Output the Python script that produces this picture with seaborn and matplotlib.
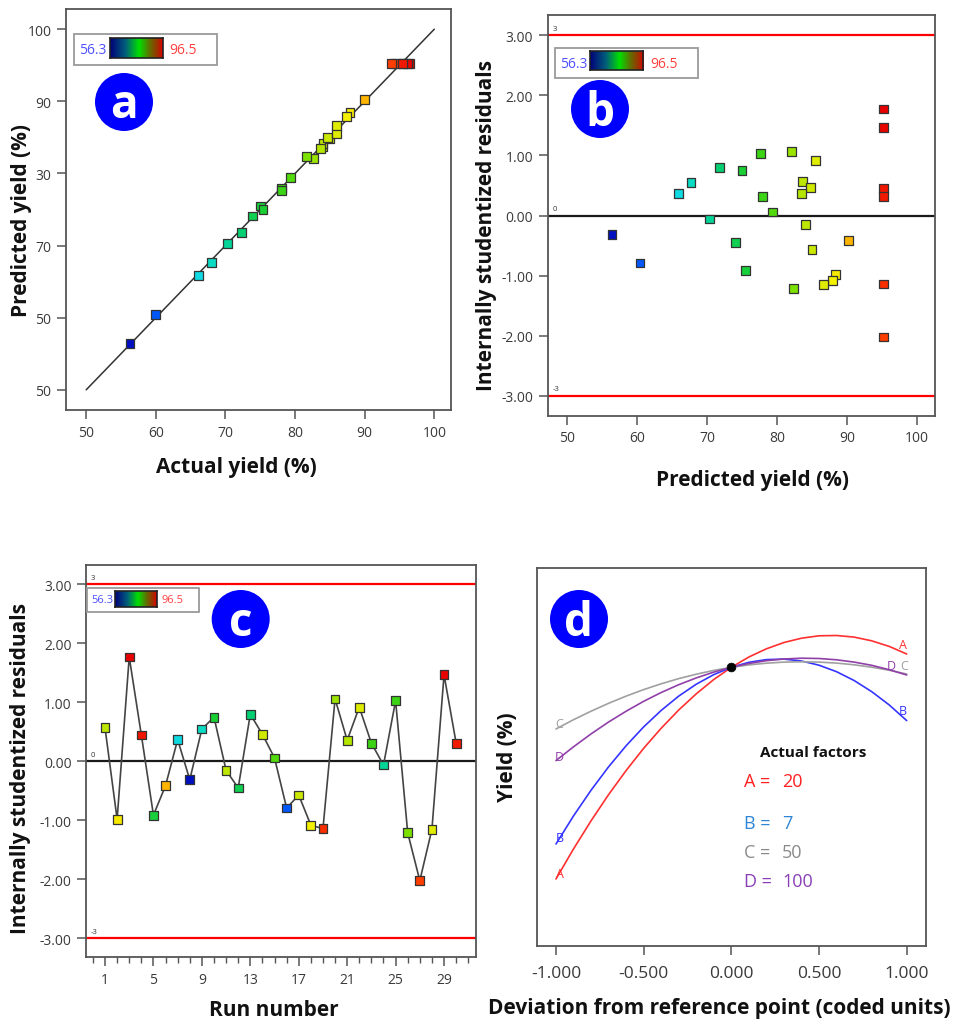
import numpy as np
import pandas as pd
import matplotlib
matplotlib.use("Agg")
import matplotlib.pyplot as plt
import seaborn as sns
from matplotlib.colors import LinearSegmentedColormap
from matplotlib.patches import Ellipse, Rectangle
from matplotlib.ticker import MultipleLocator

# ---------------- data ----------------
runs = list(range(1, 31))
actual_yield = [84.0, 87.9, 96.5, 95.5, 75.0, 90.0, 66.1, 56.3, 68.0, 75.4,
                84.0, 73.9, 72.3, 85.0, 79.4, 60.0, 84.7, 87.4, 94.4, 82.7,
                83.7, 86.0, 78.1, 70.3, 78.1, 81.7, 93.8, 86.0, 96.2, 95.4]
predicted_yield = [83.7, 88.4, 95.2, 95.2, 75.5, 90.2, 65.9, 56.4, 67.7, 75.0,
                   84.1, 74.1, 71.8, 84.8, 79.4, 60.4, 85.0, 87.9, 95.2, 82.1,
                   83.5, 85.5, 77.9, 70.3, 77.6, 82.4, 95.2, 86.6, 95.2, 95.2]
residuals = [0.57, -0.98, 1.77, 0.45, -0.91, -0.41, 0.37, -0.31, 0.55, 0.75,
             -0.15, -0.45, 0.80, 0.46, 0.06, -0.79, -0.57, -1.08, -1.14, 1.06,
             0.36, 0.92, 0.31, -0.06, 1.03, -1.21, -2.02, -1.15, 1.47, 0.31]
yield_min, yield_max = 56.3, 96.5
ref_line = [50, 100]
limit_lines = [3, 0, -3]

a_ticks = [50, 60, 70, 80, 90, 100]
a_ytick_labels = ['50', '50', '70', '30', '90', '100']
b_yticks = [-3, -2, -1, 0, 1, 2, 3]
b_ytick_labels = ['-3.00', '-2.00', '-1.00', '0.00', '1.00', '2.00', '3.00']
c_xticks = [1, 5, 9, 13, 17, 21, 25, 29]
d_xticks = [-1.0, -0.5, 0.0, 0.5, 1.0]
d_xtick_labels = ['-1.000', '-0.500', '0.000', '0.500', '1.000']

deviation = [-1.0, -0.9, -0.8, -0.7, -0.6, -0.5, -0.4, -0.3, -0.2, -0.1, 0.0,
             0.1, 0.2, 0.3, 0.4, 0.5, 0.6, 0.7, 0.8, 0.9, 1.0]
curve_A = [74.13, 77.14, 79.95, 82.57, 84.98, 87.20, 89.21, 91.03, 92.65, 94.08, 95.30,
           96.33, 97.15, 97.78, 98.21, 98.45, 98.48, 98.32, 97.95, 97.39, 96.63]
curve_B = [77.63, 80.44, 83.01, 85.35, 87.46, 89.34, 90.99, 92.42, 93.61, 94.57, 95.30,
           95.80, 96.07, 96.12, 95.93, 95.51, 94.86, 93.98, 92.87, 91.54, 89.97]
curve_C = [89.13, 90.06, 90.91, 91.70, 92.42, 93.07, 93.65, 94.17, 94.61, 94.99, 95.30,
           95.54, 95.71, 95.82, 95.85, 95.82, 95.72, 95.55, 95.31, 95.01, 94.63]
curve_D = [85.97, 87.35, 88.64, 89.83, 90.91, 91.90, 92.78, 93.56, 94.24, 94.82, 95.30,
           95.68, 95.96, 96.13, 96.21, 96.18, 96.05, 95.82, 95.50, 95.06, 94.53]
reference_point = (0.0, 95.30)
factor_names = ['A', 'B', 'C', 'D']
factor_values = ['20', '7', '50', '100']

# ---------------- style ----------------
sns.set_theme(style="white")
plt.rcParams['font.family'] = ['Open Sans', 'DejaVu Sans']

W, H = 959, 1020
fig = plt.figure(figsize=(W / 100, H / 100), dpi=100)


def rect(l, t, r, b):
    return [l / W, 1 - b / H, (r - l) / W, (b - t) / H]


pt_cmap = LinearSegmentedColormap.from_list("pts", [
    (0.00, '#0010c0'), (0.10, '#0060ff'), (0.25, '#10e0e0'), (0.38, '#00d080'),
    (0.50, '#20d020'), (0.62, '#70e000'), (0.70, '#c8e800'), (0.78, '#f5f000'),
    (0.83, '#ffc000'), (0.87, '#ff9000'), (0.93, '#ff4000'), (1.00, '#e80000')])
bar_cmap = LinearSegmentedColormap.from_list("bar", [
    (0.0, '#00007a'), (0.3, '#00607a'), (0.55, '#00e000'), (0.75, '#607000'),
    (0.9, '#a03000'), (1.0, '#e00000')])

spine_col = '#555555'
tick_col = '#3a3a3a'
label_kw = dict(fontsize=15, fontweight='bold', color='#111111')
MS = 40


def style_axes(ax, labelsize=10, pad=4):
    for s in ax.spines.values():
        s.set_color(spine_col)
        s.set_linewidth(1.3)
    ax.tick_params(direction='out', length=6.5, width=1.1, color=spine_col,
                   labelsize=labelsize, labelcolor=tick_col, pad=pad,
                   bottom=True, left=True)


def circle_label(cx, cy, letter, r=29):
    fig.add_artist(Ellipse((cx / W, 1 - cy / H), 2 * r / W, 2 * r / H,
                           transform=fig.transFigure, facecolor='#0000ff',
                           edgecolor='none', zorder=10))
    fig.text(cx / W, 1 - (cy + 3) / H, letter, ha='center', va='center',
             color='white', fontsize=33, fontweight='bold', zorder=11)


def color_legend(l, t, r, b, gl, gr, gt, gb, fs):
    fig.add_artist(Rectangle((l / W, 1 - b / H), (r - l) / W, (b - t) / H,
                             transform=fig.transFigure, facecolor='white',
                             edgecolor='#9a9a9a', linewidth=1.3, zorder=5))
    gax = fig.add_axes(rect(gl, gt, gr, gb))
    gax.set_zorder(6)
    gax.imshow(np.linspace(0, 1, 256)[None, :], aspect='auto', cmap=bar_cmap)
    gax.set_xticks([])
    gax.set_yticks([])
    for s in gax.spines.values():
        s.set_color('#222222')
        s.set_linewidth(1.2)
    fig.text(((l + gl) / 2 + 1) / W, 1 - (t + b) / 2 / H, f"{yield_min}", ha='center',
             va='center', color='#5050ff', fontsize=fs, zorder=7)
    fig.text((gr + (gr - gl) * 0.1 + fs * 1.5) / W, 1 - (t + b) / 2 / H, f"{yield_max}",
             ha='center', va='center', color='#ff4040', fontsize=fs, zorder=7)


# ---------------- panel a ----------------
ax_a = fig.add_axes(rect(66, 10, 451, 411))
sns.lineplot(x=ref_line, y=ref_line, color='#333333', lw=1.1, ax=ax_a, zorder=2)
sns.scatterplot(x=actual_yield, y=predicted_yield, hue=actual_yield, palette=pt_cmap,
                hue_norm=(yield_min, yield_max), marker='s', s=MS,
                edgecolor='#333333', linewidth=0.9, legend=False, ax=ax_a, zorder=3)
ax_a.set_xlim(47.1, 102.4)
ax_a.set_ylim(47.2, 102.8)
ax_a.set_xticks(a_ticks)
ax_a.set_yticks(a_ticks)
ax_a.set_yticklabels(a_ytick_labels)
style_axes(ax_a)
ax_a.set_xlabel("Actual yield (%)", va='center', **label_kw)
ax_a.set_ylabel("Predicted yield (%)", va='center', **label_kw)
ax_a.xaxis.set_label_coords(0.4416, -0.142)
ax_a.yaxis.set_label_coords(-0.115, 0.476)

# ---------------- panel b ----------------
ax_b = fig.add_axes(rect(547.7, 15.7, 935, 416.7))
for v in limit_lines:
    ax_b.axhline(v, color='#ff0000' if v != 0 else '#1a1a1a', lw=1.6, zorder=1)
sns.scatterplot(x=predicted_yield, y=residuals, hue=actual_yield, palette=pt_cmap,
                hue_norm=(yield_min, yield_max), marker='s', s=MS,
                edgecolor='#333333', linewidth=0.9, legend=False, ax=ax_b, zorder=3)
ax_b.set_xlim(47.2, 102.6)
ax_b.set_ylim(-3.33, 3.34)
ax_b.set_xticks(a_ticks)
ax_b.set_yticks(b_yticks)
ax_b.set_yticklabels(b_ytick_labels)
style_axes(ax_b)
ax_b.set_xlabel("Predicted yield (%)", va='center', **label_kw)
ax_b.set_ylabel("Internally studentized residuals", va='center', **label_kw)
ax_b.xaxis.set_label_coords(0.530, -0.158)
ax_b.yaxis.set_label_coords(-0.157, 0.478)
for v in limit_lines:
    ax_b.text(0.012, v + 0.06, f"{v}", transform=ax_b.get_yaxis_transform(),
              fontsize=5.5, color='#333333', ha='left', va='bottom')

# ---------------- panel c ----------------
ax_c = fig.add_axes(rect(86, 566, 476, 958.3))
for v in limit_lines:
    ax_c.axhline(v, color='#ff0000' if v != 0 else '#1a1a1a', lw=1.6, zorder=1)
sns.lineplot(x=runs, y=residuals, color='#444444', lw=1.2, ax=ax_c, zorder=2)
sns.scatterplot(x=runs, y=residuals, hue=actual_yield, palette=pt_cmap,
                hue_norm=(yield_min, yield_max), marker='s', s=MS,
                edgecolor='#333333', linewidth=0.9, legend=False, ax=ax_c, zorder=3)
ax_c.set_xlim(-0.57, 31.64)
ax_c.set_ylim(-3.32, 3.33)
ax_c.set_xticks(c_xticks)
ax_c.xaxis.set_minor_locator(MultipleLocator(1))
ax_c.set_yticks(b_yticks)
ax_c.set_yticklabels(b_ytick_labels)
style_axes(ax_c)
ax_c.tick_params(axis='x', which='minor', direction='out', length=4, width=1.0,
                 color=spine_col, bottom=True)
ax_c.set_xlabel("Run number", va='center', **label_kw)
ax_c.set_ylabel("Internally studentized residuals", va='center', **label_kw)
ax_c.xaxis.set_label_coords(0.482, -0.132)
ax_c.yaxis.set_label_coords(-0.169, 0.484)
for v in limit_lines:
    ax_c.text(0.012, v + 0.06, f"{v}", transform=ax_c.get_yaxis_transform(),
              fontsize=5.5, color='#333333', ha='left', va='bottom')

# ---------------- panel d ----------------
ax_d = fig.add_axes(rect(536.7, 569.3, 926, 947.3))
curve_colors = {'A': '#ff3030', 'B': '#3535ff', 'C': '#a0a0a0', 'D': '#9040a8'}
text_colors = {'A': '#ff2020', 'B': '#2f86d6', 'C': '#8a8a8a', 'D': '#8a3fb8'}
curves = {'A': curve_A, 'B': curve_B, 'C': curve_C, 'D': curve_D}
df_d = pd.concat([pd.DataFrame({'dev': deviation, 'yield': v, 'factor': k})
                  for k, v in curves.items()], ignore_index=True)
sns.lineplot(data=df_d, x='dev', y='yield', hue='factor', palette=curve_colors,
             lw=1.2, legend=False, ax=ax_d, zorder=2)
sns.scatterplot(x=[reference_point[0]], y=[reference_point[1]], color='black', s=40,
                edgecolor='black', ax=ax_d, zorder=4)
ax_d.set_xlim(-1.11, 1.11)
ax_d.set_ylim(67.4, 105.2)
ax_d.set_xticks(d_xticks)
ax_d.set_xticklabels(d_xtick_labels)
ax_d.set_yticks([])
style_axes(ax_d, labelsize=12.5, pad=7)
ax_d.set_xlabel("Deviation from reference point (coded units)", va='center', **label_kw)
ax_d.set_ylabel("Yield (%)", va='center', **label_kw)
ax_d.xaxis.set_label_coords(0.468, -0.161)
ax_d.yaxis.set_label_coords(-0.074, 0.503)
end_offsets = {'A': (0.5, 0.75, 0.977), 'B': (0.65, 0.65, 0.977),
               'C': (0.6, 0.75, 0.985), 'D': (0.45, 0.45, 0.91)}
for k, v in curves.items():
    lo, ro, rx = end_offsets[k]
    ax_d.text(-0.98, v[0] + lo, k, color=curve_colors[k], fontsize=9,
              ha='center', va='center')
    ry = np.interp(rx, deviation, v)
    ax_d.text(rx, ry + ro, k, color=curve_colors[k], fontsize=9,
              ha='center', va='center')
ax_d.text(0.710, 0.514, "Actual factors", transform=ax_d.transAxes, fontsize=11,
          fontweight='bold', color='#111111', ha='center', va='center')
for i, (nm, val) in enumerate(zip(factor_names, factor_values)):
    yy = [0.437, 0.327, 0.250, 0.173][i]
    ax_d.text(0.533, yy, f"{nm} =", transform=ax_d.transAxes, fontsize=13,
              color=text_colors[nm], ha='left', va='center')
    ax_d.text(0.630, yy, val, transform=ax_d.transAxes, fontsize=13,
              color=text_colors[nm], ha='left', va='center')

# ---------------- overlays ----------------
color_legend(74.3, 35, 216.7, 65.7, 110, 163, 39, 59, 10)
color_legend(555, 49.3, 697.7, 79.3, 590, 643.3, 52, 71, 10)
color_legend(87.3, 589, 199, 612.7, 115, 156.7, 592, 608, 8)
circle_label(124, 103, 'a')
circle_label(600, 110, 'b')
circle_label(240.7, 620, 'c')
circle_label(579, 620, 'd')

fig.savefig("out.png", dpi=100)
